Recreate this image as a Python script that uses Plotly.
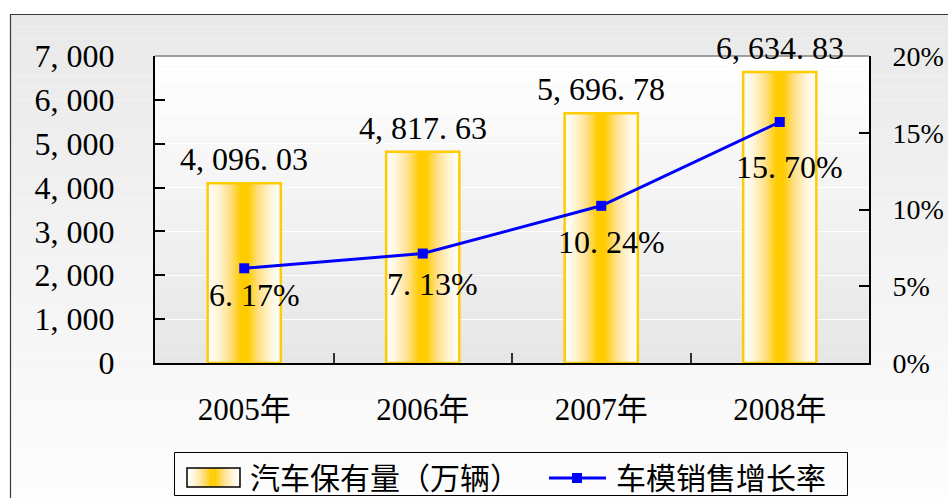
import plotly.graph_objects as go

# ---- data ----
years = ["2005年", "2006年", "2007年", "2008年"]
car_stock = [4096.03, 4817.63, 5696.78, 6634.83]      # 汽车保有量（万辆）
model_growth = [6.17, 7.13, 10.24, 15.70]             # 车模销售增长率 (%)
left_ticks = [0, 1000, 2000, 3000, 4000, 5000, 6000, 7000]
right_ticks = [0, 5, 10, 15, 20]
series_names = ["汽车保有量（万辆）", "车模销售增长率"]

# ---- style ----
W, H = 948, 498
L, R, T, B = 155, 79, 56, 135
GOLD = "#ffcc00"
BLUE = "#0000ff"
FONT = "Liberation Serif, 'Noto Sans CJK SC', serif"
CJK = "'Noto Sans CJK SC', sans-serif"
FS = 32
BAR_HALF = 0.205
pct_label_shift = [-27, -30, -36, -45]
bar_scale = [[0, "#ffffff"], [0.12, "#fff7e0"], [0.30, "#ffe08a"], [0.45, GOLD],
             [0.55, GOLD], [0.70, "#ffe08a"], [0.88, "#fff7e0"], [1, "#ffffff"]]


def spaced(s):
    # wide punctuation spacing, as in the Song-style typeface
    return s.replace(",", ", ").replace(".", ". ")


def px_x(px):
    return (px - L) / (W - L - R)


def px_y(py):
    return (H - B - py) / (H - T - B)


def hex_rgb(h):
    h = h.lstrip("#")
    return tuple(int(h[i:i + 2], 16) for i in (0, 2, 4))


def mix(c0, c1, t):
    return "#%02x%02x%02x" % tuple(int(round(a + (b - a) * t)) for a, b in zip(c0, c1))


def scale_color(scale, t):
    for (p0, c0), (p1, c1) in zip(scale[:-1], scale[1:]):
        if p0 <= t <= p1:
            return mix(hex_rgb(c0), hex_rgb(c1), (t - p0) / (p1 - p0) if p1 > p0 else 0)
    return scale[-1][1]


fig = go.Figure()

# bars with a horizontal gold gradient
for i, v in enumerate(car_stock):
    fig.add_trace(go.Scatter(
        x=[i - BAR_HALF, i + BAR_HALF, i + BAR_HALF, i - BAR_HALF, i - BAR_HALF],
        y=[0, 0, v, v, 0],
        mode="lines", fill="toself",
        fillgradient=dict(type="horizontal", colorscale=bar_scale),
        line=dict(color=GOLD, width=2.5),
        name=series_names[0], showlegend=False, hoverinfo="skip",
    ))

# growth-rate line on the right axis
fig.add_trace(go.Scatter(
    x=list(range(len(years))), y=model_growth, yaxis="y2",
    mode="lines+markers",
    line=dict(color=BLUE, width=3),
    marker=dict(symbol="square", size=10, color=BLUE),
    name=series_names[1], showlegend=False,
))

annotations = []
for i, v in enumerate(car_stock):
    annotations.append(dict(
        x=i, y=v, xref="x", yref="y", text=spaced(f"{v:,.2f}"),
        showarrow=False, yanchor="middle", yshift=24,
        font=dict(family=FONT, size=FS, color="black"),
    ))
for i, g in enumerate(model_growth):
    annotations.append(dict(
        x=i, y=g, xref="x", yref="y2", text=spaced(f"{g:.2f}") + "%",
        showarrow=False, yanchor="middle", yshift=pct_label_shift[i], xshift=10,
        font=dict(family=FONT, size=FS, color="black"),
    ))

shapes = []
# outer chart area: light grey fading to white
n = 40
top_px, bot_px = 14, H + 5
for k in range(n):
    y0p = top_px + (bot_px - top_px) * k / n
    y1p = top_px + (bot_px - top_px) * (k + 1) / n
    shapes.append(dict(
        type="rect", xref="paper", yref="paper", layer="below",
        x0=px_x(10), x1=px_x(W + 5), y0=px_y(y1p), y1=px_y(y0p),
        fillcolor=mix((233, 233, 233), (253, 253, 253), k / (n - 1)),
        line=dict(width=0),
    ))
shapes.append(dict(
    type="rect", xref="paper", yref="paper", layer="below",
    x0=px_x(10.5), x1=px_x(W + 5), y0=px_y(H + 5), y1=px_y(14.5),
    fillcolor="rgba(0,0,0,0)", line=dict(color="#3a3a3a", width=1.2),
))
# plot area: white fading to grey
m = 30
for k in range(m):
    shapes.append(dict(
        type="rect", xref="x domain", yref="y domain", layer="below",
        x0=0, x1=1, y0=1 - (k + 1) / m, y1=1 - k / m,
        fillcolor=mix((255, 255, 255), (230, 230, 230), k / (m - 1)),
        line=dict(width=0),
    ))
shapes.append(dict(
    type="line", xref="x domain", yref="y domain", layer="above",
    x0=0, x1=1, y0=1, y1=1, line=dict(color="#808080", width=1.5),
))

# legend box
shapes.append(dict(
    type="rect", xref="paper", yref="paper", layer="above",
    x0=px_x(174.5), x1=px_x(847.5), y0=px_y(495.5), y1=px_y(452.5),
    fillcolor="rgba(0,0,0,0)", line=dict(color="black", width=1),
))
# legend swatch for the bars: gradient rectangle with a dark border
sw_x0, sw_x1, sw_y0, sw_y1 = 187, 240, 468, 487
steps = 27
for k in range(steps):
    a = sw_x0 + (sw_x1 - sw_x0) * k / steps
    b = sw_x0 + (sw_x1 - sw_x0) * (k + 1) / steps
    shapes.append(dict(
        type="rect", xref="paper", yref="paper", layer="above",
        x0=px_x(a), x1=px_x(b + 0.3), y0=px_y(sw_y1), y1=px_y(sw_y0),
        fillcolor=scale_color(bar_scale, (k + 0.5) / steps), line=dict(width=0),
    ))
shapes.append(dict(
    type="rect", xref="paper", yref="paper", layer="above",
    x0=px_x(sw_x0), x1=px_x(sw_x1), y0=px_y(sw_y1), y1=px_y(sw_y0),
    fillcolor="rgba(0,0,0,0)", line=dict(color="black", width=1.5),
))
# legend swatch for the line: blue stroke with a square marker
shapes.append(dict(
    type="line", xref="paper", yref="paper", layer="above",
    x0=px_x(549), x1=px_x(606), y0=px_y(478), y1=px_y(478),
    line=dict(color=BLUE, width=3),
))
shapes.append(dict(
    type="rect", xref="paper", yref="paper", layer="above",
    x0=px_x(572), x1=px_x(582), y0=px_y(483), y1=px_y(473),
    fillcolor=BLUE, line=dict(width=0),
))
annotations.append(dict(
    x=px_x(248), y=px_y(476), xref="paper", yref="paper", text=series_names[0],
    showarrow=False, xanchor="left", yanchor="middle",
    font=dict(family=CJK, size=30, color="black"),
))
annotations.append(dict(
    x=px_x(614), y=px_y(476), xref="paper", yref="paper", text=series_names[1],
    showarrow=False, xanchor="left", yanchor="middle",
    font=dict(family=CJK, size=30, color="black"),
))

fig.update_layout(
    width=W, height=H,
    margin=dict(l=L, r=R, t=T, b=B, pad=0, autoexpand=False),
    paper_bgcolor="white",
    plot_bgcolor="rgba(0,0,0,0)",
    font=dict(family=FONT, size=FS, color="black"),
    showlegend=False,
    xaxis=dict(
        range=[-0.5, 3.5], tickmode="array", tickvals=list(range(len(years))),
        ticktext=years, ticks="", showgrid=False, zeroline=False,
        showline=True, linecolor="black", linewidth=2,
        ticklabelstandoff=18, automargin=False,
        tickfont=dict(family=FONT, size=31),
        minor=dict(tickmode="array", tickvals=[0.5, 1.5, 2.5], ticks="inside",
                   ticklen=10, tickcolor="#333", tickwidth=1.5, showgrid=False),
    ),
    yaxis=dict(
        range=[0, 7000], tickmode="array", tickvals=left_ticks,
        ticktext=[spaced(f"{t:,}") for t in left_ticks],
        ticks="inside", ticklen=10, tickcolor="black", tickwidth=1.5,
        showline=True, linecolor="black", linewidth=2,
        showgrid=True, gridcolor="white", gridwidth=1, zeroline=False,
        ticklabelstandoff=32, automargin=False,
    ),
    yaxis2=dict(
        range=[0, 20], overlaying="y", side="right", tickmode="array",
        tickvals=right_ticks, ticktext=[f"{t}%" for t in right_ticks],
        ticks="inside", ticklen=10, tickcolor="black", tickwidth=1.5,
        showline=True, linecolor="black", linewidth=2,
        showgrid=False, zeroline=False, ticklabelstandoff=16, automargin=False,
        tickfont=dict(family=FONT, size=28),
    ),
    annotations=annotations,
    shapes=shapes,
)

fig.write_html("out.html")
